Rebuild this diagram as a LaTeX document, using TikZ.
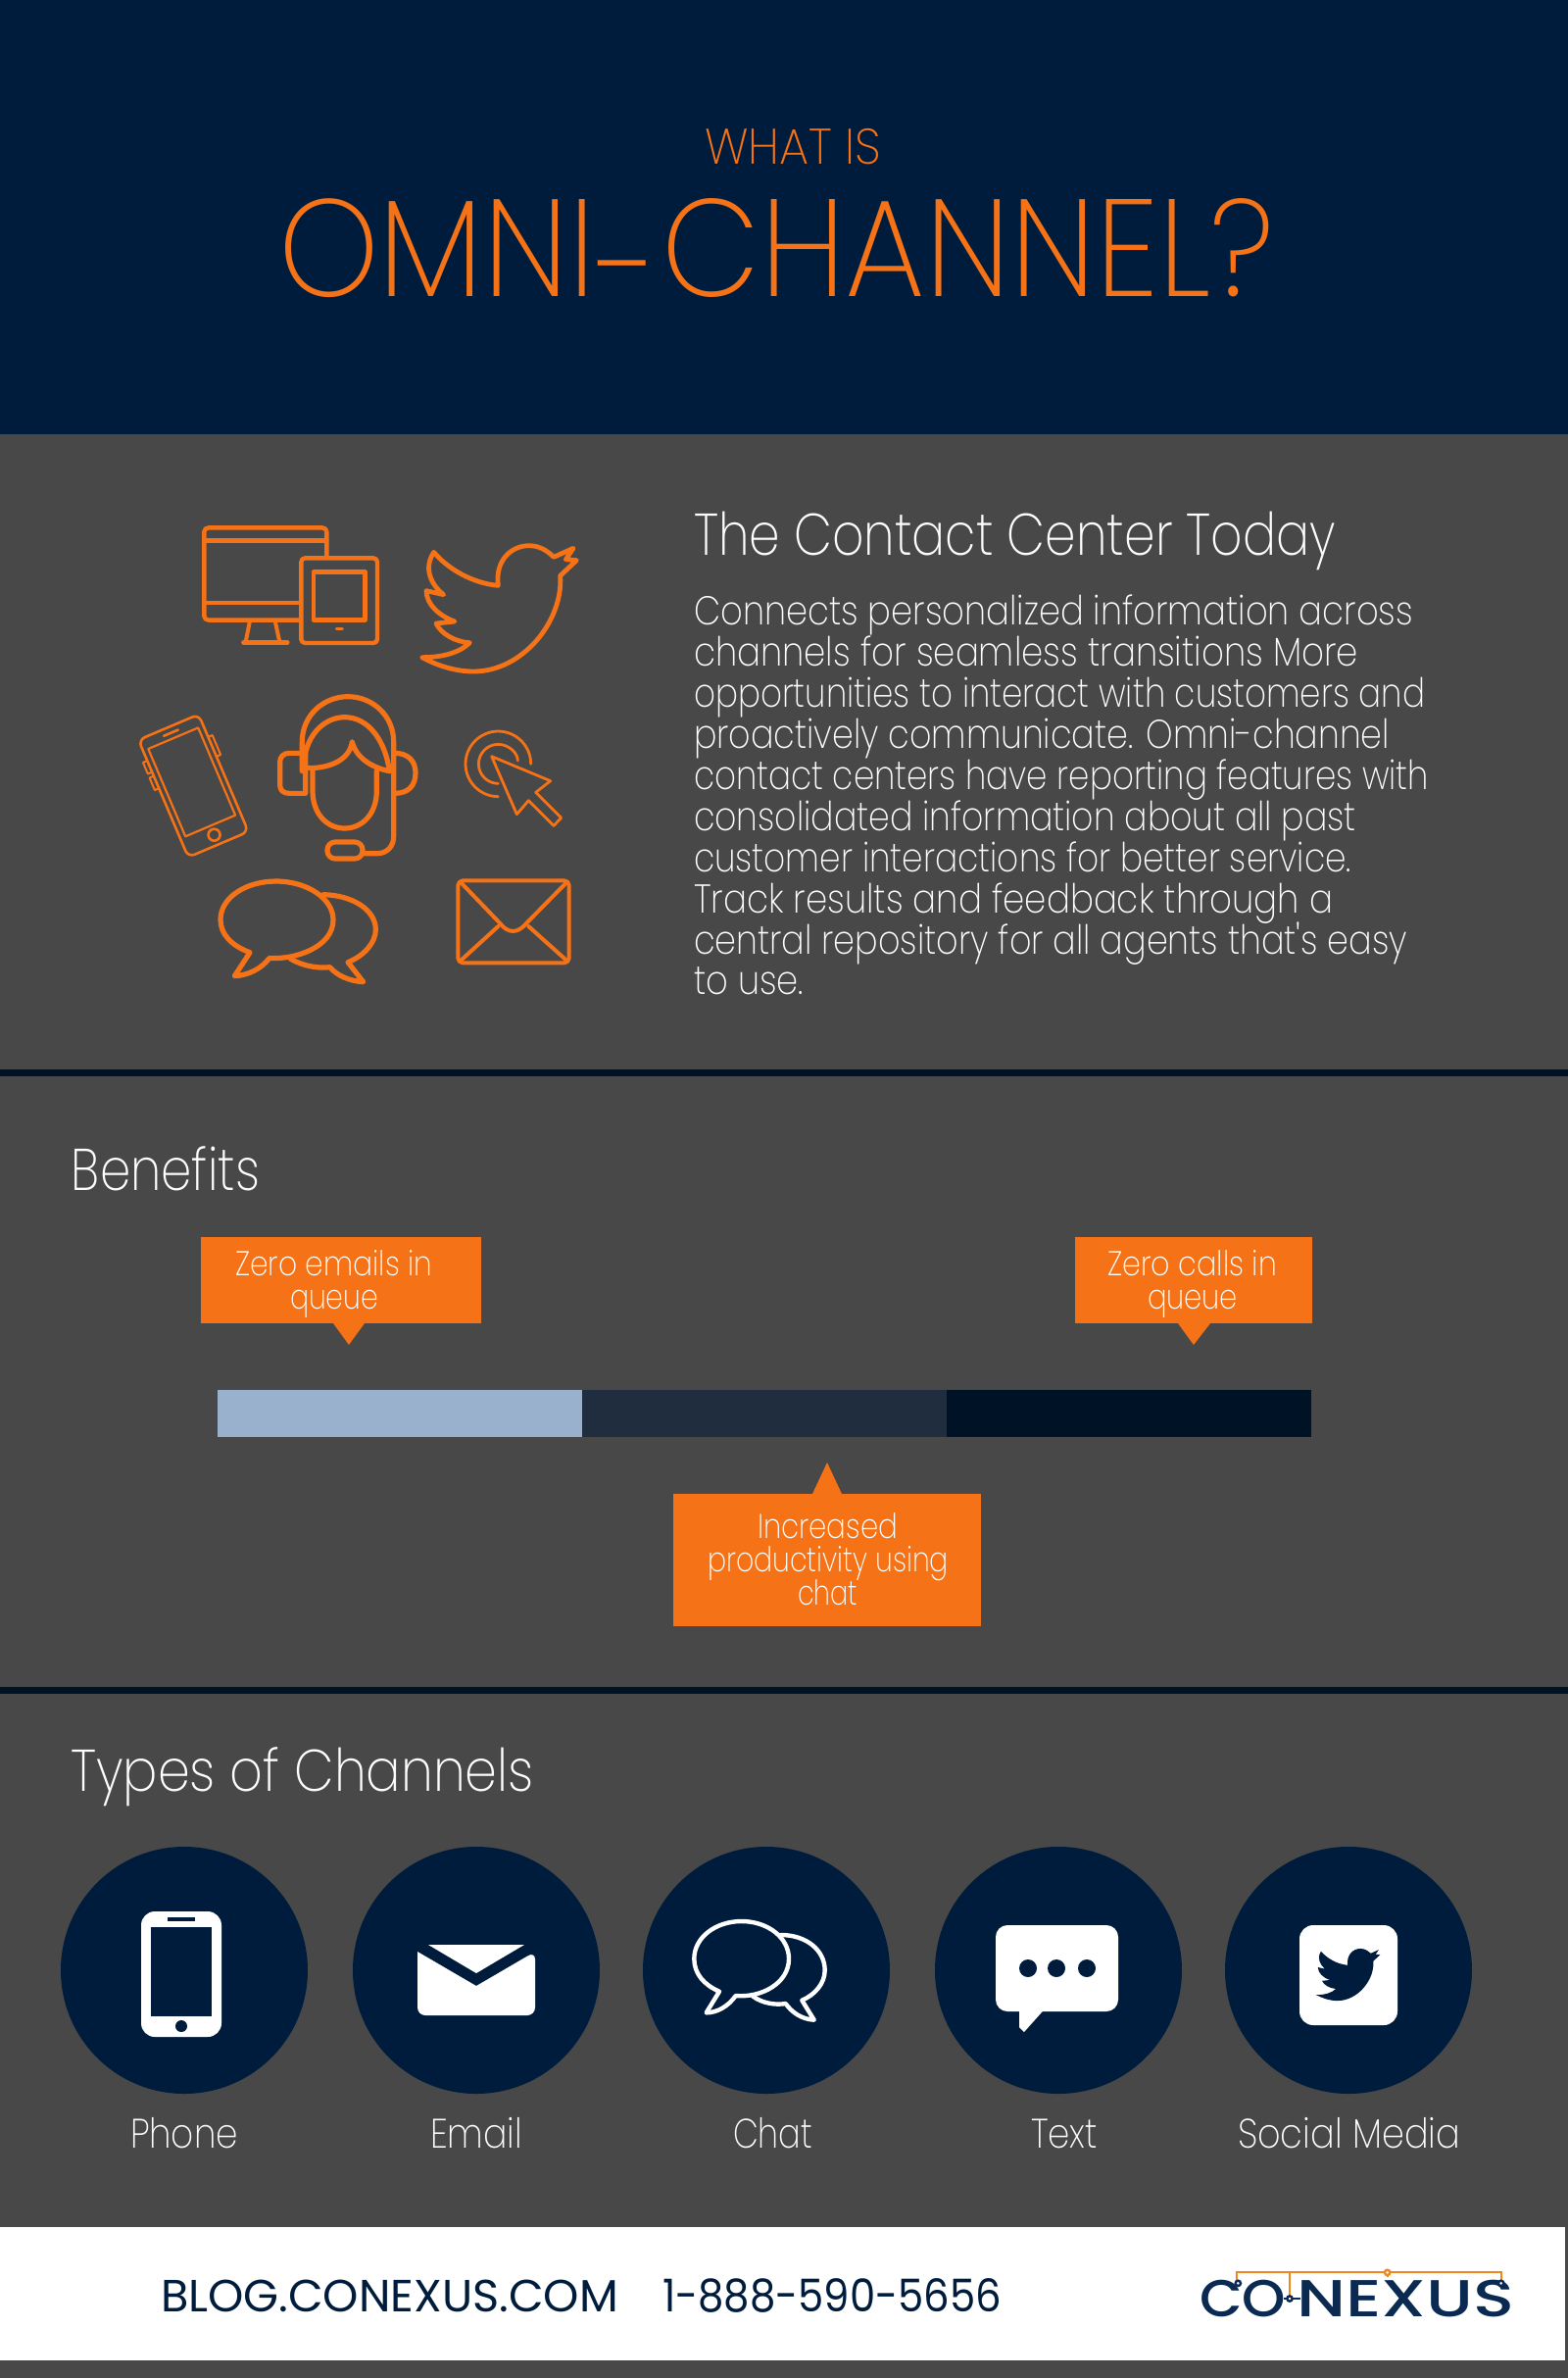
\documentclass[tikz,border=0pt]{standalone}
\usepackage{graphicx}
\usepackage{fontspec}
\newfontfamily\fxl{Poppins ExtraLight}
\newfontfamily\freg{Poppins}
\newfontfamily\fmed{Poppins Medium}
\definecolor{navy}{HTML}{001C3C}
\definecolor{sect}{HTML}{484848}
\definecolor{rule}{HTML}{001326}
\definecolor{org}{HTML}{F57216}
\definecolor{barA}{HTML}{9AB1CE}
\definecolor{barB}{HTML}{1F2D3F}
\definecolor{barC}{HTML}{001326}
\definecolor{logoN}{HTML}{0B2A52}
\definecolor{logoO}{HTML}{F0861E}
\newsavebox\fitbox
% #1 target width in reference pixels, #2 font size in reference pixels, #3 font, #4 text
\newcommand\fitw[4]{\sbox\fitbox{\fontsize{\fpeval{#2/2}pt}{\fpeval{#2/2}pt}#3#4}\pgfmathsetmacro\fitr{(#1*0.5)/(\the\wd\fitbox)}\scalebox{\fitr}[1]{\usebox\fitbox}}
\tikzset{
  txt/.style={anchor=base west,inner sep=0pt,outer sep=0pt,text=white},
  icon/.style={draw=org,line join=round,line cap=round,fill=none},
  zone/.style={shift={(#1)},x=0.16667pt,y=-0.16667pt},
  dotn/.style={circle,fill=navy,inner sep=0pt,minimum size=9pt},
  disc/.style={circle,fill=navy,inner sep=0pt,minimum size=126pt}
}
\newcommand\birdpath{(968,190) .. controls (1010,240) and (1085,285) .. (1165,292) .. controls (1155,215) and (1205,170) .. (1260,170) .. controls (1295,170) and (1320,190) .. (1335,205) -- (1395,178) -- (1372,212) -- (1405,215) -- (1355,262) .. controls (1365,400) and (1240,555) .. (1090,555) .. controls (1030,555) and (975,535) .. (932,512) .. controls (1000,512) and (1050,495) .. (1078,467) .. controls (1035,465) and (990,440) .. (975,408) -- (1032,402) .. controls (985,385) and (945,350) .. (945,308) -- (998,320) .. controls (960,290) and (935,240) .. (968,190) -- cycle}
\begin{document}
\begin{tikzpicture}[x=0.5pt,y=-0.5pt]
\useasboundingbox (0,0) rectangle (1600,2426);
\fill[sect] (0,0) rectangle (1600,2426);
\fill[navy] (0,0) rectangle (1600,443);
\fill[rule] (0,1091) rectangle (1600,1098);
\fill[rule] (0,1721) rectangle (1600,1728);

% title
\node[txt,text=org] (what) at (719,167) {\fitw{180}{51}{\fxl}{WHAT IS}};
\node[txt,text=org] (omni) at (284,302) {\fitw{1016}{141}{\fxl}{OMNI\kern.02em\raisebox{-0.14em}{-}\kern.02em CHANNEL?}};

% contact centre text
\node[txt] (head) at (708,566) {\fitw{655}{60}{\fxl}{The Contact Center Today}};
\node[txt] (l1) at (708,637) {\fitw{734}{41}{\fxl}{Connects personalized information across}};
\node[txt] (l2) at (708,679) {\fitw{678}{41}{\fxl}{channels for seamless transitions More}};
\node[txt] (l3) at (708,721) {\fitw{746}{41}{\fxl}{opportunities to interact with customers and}};
\node[txt] (l4) at (708,763) {\fitw{710}{41}{\fxl}{proactively communicate. Omni-channel}};
\node[txt] (l5) at (708,805) {\fitw{750}{41}{\fxl}{contact centers have reporting features with}};
\node[txt] (l6) at (708,847) {\fitw{676}{41}{\fxl}{consolidated information about all past}};
\node[txt] (l7) at (708,889) {\fitw{671}{41}{\fxl}{customer interactions for better service.}};
\node[txt] (l8) at (708,931) {\fitw{652}{41}{\fxl}{Track results and feedback through a}};
\node[txt] (l9) at (708,973) {\fitw{728}{41}{\fxl}{central repository for all agents that's easy}};
\node[txt] (l10) at (708,1014) {\fitw{112}{41}{\fxl}{to use.}};

% orange icons, traced in the 3x crop
\begin{scope}[zone={120,500}]
  % monitor and tablet
  \draw[icon,line width=2.2pt] (640,200) -- (640,128) .. controls (640,120) and (634,115) .. (626,115) -- (279,115) .. controls (271,115) and (265,120) .. (265,128) -- (265,385) .. controls (265,393) and (271,398) .. (279,398) -- (558,398);
  \draw[icon,line width=2.2pt] (265,155) -- (640,155);
  \draw[icon,line width=2.2pt] (265,345) -- (558,345);
  \draw[icon,line width=2pt] (405,400) -- (392,465) (482,400) -- (496,465);
  \draw[icon,line width=2.2pt] (385,466) -- (520,466);
  \draw[icon,line width=2.2pt,rounded corners=2pt] (562,208) rectangle (795,468);
  \draw[icon,line width=2.2pt] (600,250) rectangle (757,398);
  \draw[icon,line width=1.5pt] (670,425) -- (688,425);
  % bird
  \draw[icon,line width=2.4pt] \birdpath;
  % phone
  \begin{scope}[shift={(232,905)},rotate=23]
    \draw[icon,line width=1.3pt,rounded corners=3.5pt] (-100,-195) rectangle (100,195);
    \draw[icon,line width=1.1pt] (-83,-158) rectangle (83,133);
    \draw[icon,line width=1.3pt] (-24,-176) -- (24,-176);
    \draw[icon,line width=1.3pt] (0,163) circle [radius=18];
    \draw[icon,line width=1pt] (100,-120) -- (114,-120) -- (114,-55) -- (100,-55);
    \draw[icon,line width=1pt] (-100,-126) -- (-114,-126) -- (-114,-88) -- (-100,-88);
    \draw[icon,line width=1pt] (-100,-75) -- (-114,-75) -- (-114,-34) -- (-100,-34);
  \end{scope}
  % headset
  \draw[icon,line width=2.6pt] (565,860) -- (565,770) .. controls (565,690) and (630,632) .. (705,632) .. controls (780,632) and (845,690) .. (845,770) -- (845,1060) .. controls (845,1090) and (825,1112) .. (795,1112) -- (750,1112);
  \draw[icon,line width=2.6pt] (570,850) .. controls (570,755) and (630,695) .. (695,695) .. controls (770,695) and (820,770) .. (832,860);
  \draw[icon,line width=2.6pt] (570,850) .. controls (640,855) and (710,830) .. (718,770) .. controls (730,820) and (780,850) .. (832,860);
  \draw[icon,line width=2.6pt] (597,860) -- (597,920) .. controls (597,990) and (640,1035) .. (695,1035) .. controls (750,1035) and (793,990) .. (793,920) -- (793,860);
  \draw[icon,line width=2.6pt] (575,805) -- (525,805) .. controls (507,805) and (497,817) .. (497,832) -- (497,903) .. controls (497,918) and (507,928) .. (525,928) -- (575,928) -- cycle;
  \draw[icon,line width=2.6pt] (848,805) .. controls (890,805) and (912,830) .. (912,865) .. controls (912,905) and (890,928) .. (848,928);
  \draw[icon,line width=2.6pt,rounded corners=4pt] (642,1077) rectangle (750,1128);
  % click cursor
  \draw[icon,line width=1.4pt] (1165,938) .. controls (1110,938) and (1065,893) .. (1065,838) .. controls (1065,783) and (1110,738) .. (1165,738) .. controls (1220,738) and (1265,783) .. (1265,838);
  \draw[icon,line width=1.4pt] (1165,898) .. controls (1132,898) and (1105,871) .. (1105,838) .. controls (1105,805) and (1132,778) .. (1165,778) .. controls (1198,778) and (1225,805) .. (1225,828);
  \draw[icon,line width=1.4pt] (1145,815) -- (1325,890) -- (1280,925) -- (1358,1003) -- (1335,1027) -- (1258,950) -- (1222,992) -- cycle;
  % chat
  \draw[icon,line width=2.6pt] (405,1415) -- (358,1487) .. controls (400,1485) and (440,1465) .. (465,1432) .. controls (540,1438) and (660,1400) .. (660,1315) .. controls (660,1250) and (580,1197) .. (485,1197) .. controls (395,1197) and (315,1245) .. (315,1315) .. controls (315,1360) and (350,1395) .. (405,1415) -- cycle;
  \draw[icon,line width=2.6pt] (630,1238) .. controls (720,1240) and (790,1285) .. (790,1345) .. controls (790,1385) and (755,1425) .. (705,1445) -- (752,1505) .. controls (710,1503) and (670,1485) .. (650,1460) .. controls (610,1465) and (565,1455) .. (530,1435);
  % envelope
  \draw[icon,line width=2pt,rounded corners=2.5pt] (1042,1195) rectangle (1382,1447);
  \draw[icon,line width=2pt] (1050,1200) -- (1170,1325) .. controls (1195,1358) and (1225,1358) .. (1252,1325) -- (1375,1200);
  \draw[icon,line width=2pt] (1050,1440) -- (1165,1335) (1375,1440) -- (1258,1335);
\end{scope}

% benefits
\node[txt] (benefits) at (73,1214) {\fitw{192}{60}{\fxl}{Benefits}};
\fill[org] (205,1262) rectangle (491,1350);
\fill[org] (340,1350) -- (372,1350) -- (356,1372) -- cycle;
\fill[org] (1097,1262) rectangle (1339,1350);
\fill[org] (1202,1350) -- (1235,1350) -- (1218,1372) -- cycle;
\fill[org] (687,1524) rectangle (1001,1659);
\fill[org] (829,1524) -- (859,1524) -- (844,1492) -- cycle;
\fill[barA] (222,1418) rectangle (594,1466);
\fill[barB] (594,1418) rectangle (966,1466);
\fill[barC] (966,1418) rectangle (1338,1466);
\node[txt] (ze1) at (240,1301) {\fitw{201}{35}{\fxl}{Zero emails in}};
\node[txt] (ze2) at (296,1335) {\fitw{90}{35}{\fxl}{queue}};
\node[txt] (zc1) at (1130,1301) {\fitw{173}{35}{\fxl}{Zero calls in}};
\node[txt] (zc2) at (1171,1335) {\fitw{92}{35}{\fxl}{queue}};
\node[txt] (ip1) at (773,1569) {\fitw{143}{35}{\fxl}{Increased}};
\node[txt] (ip2) at (722,1603) {\fitw{246}{35}{\fxl}{productivity using}};
\node[txt] (ip3) at (814,1637) {\fitw{61}{35}{\fxl}{chat}};

% channels
\node[txt] (types) at (72,1827) {\fitw{473}{60}{\fxl}{Types of Channels}};
\node[disc] (c1) at (188,2010) {};
\node[disc] (c2) at (486,2010) {};
\node[disc] (c3) at (782,2010) {};
\node[disc] (c4) at (1080,2010) {};
\node[disc] (c5) at (1376,2010) {};
\node[txt] (n1) at (133,2191) {\fitw{110}{42}{\fxl}{Phone}};
\node[txt] (n2) at (439,2191) {\fitw{94}{42}{\fxl}{Email}};
\node[txt] (n3) at (748,2191) {\fitw{81}{42}{\fxl}{Chat}};
\node[txt] (n4) at (1052,2191) {\fitw{68}{42}{\fxl}{Text}};
\node[txt] (n5) at (1263,2191) {\fitw{227}{42}{\fxl}{Social Media}};

% white channel icons
\fill[white,rounded corners=7pt] (144,1950) rectangle (226,2078);
\fill[navy] (154,1966) rectangle (215.5,2057);
\fill[navy] (171,1956) rectangle (199,1960);
\fill[navy] (185,2067) circle [radius=6];
\fill[white] (437,1984) -- (535,1984) -- (486,2013) -- cycle;
\fill[white,rounded corners=4pt] (426,1991) -- (426,2056) -- (546,2056) -- (546,1991) [sharp corners] -- (486,2026) -- cycle;
\begin{scope}[zone={660,1900}]
  \draw[white,line width=2.2pt,line join=round,line cap=round] (222,395) -- (182,460) .. controls (215,460) and (250,440) .. (272,408) .. controls (350,415) and (435,370) .. (435,295) .. controls (435,230) and (370,180) .. (290,180) .. controls (210,180) and (145,230) .. (145,295) .. controls (145,340) and (175,375) .. (222,395) -- cycle;
  \draw[white,line width=2.2pt,line join=round,line cap=round] (410,222) .. controls (490,222) and (545,270) .. (545,330) .. controls (545,370) and (515,405) .. (475,422) -- (512,482) .. controls (475,480) and (445,460) .. (425,432) .. controls (395,437) and (355,432) .. (325,410);
\end{scope}
\fill[white,rounded corners=6pt] (1016,1964) rectangle (1141,2052);
\fill[white,line join=round] (1040,2045) -- (1040,2068) -- (1045,2073) -- (1070,2045) -- cycle;
\node[dotn] (d1) at (1049,2008) {};
\node[dotn] (d2) at (1078,2008) {};
\node[dotn] (d3) at (1109,2008) {};
\fill[white,rounded corners=7pt] (1326,1964) rectangle (1426,2066);
\begin{scope}[shift={(1214.4,1964.5)},x=0.069pt,y=-0.069pt]
  \fill[navy] \birdpath;
\end{scope}

% footer
\fill[white] (0,2272) rectangle (1597,2408);
\node[txt,text=navy] (blog) at (164,2358) {\fitw{467}{46}{\freg}{BLOG.CONEXUS.COM}};
\node[txt,text=navy] (tel) at (676,2358) {\fitw{346}{46}{\freg}{1-888-590-5656}};

% logo, traced in the 3x crop
\node[txt,text=logoN] (lco) at (1224,2363) {\fitw{88}{53}{\fmed}{CO}};
\node[txt,text=logoN] (lnx) at (1323,2363) {\fitw{222}{53}{\fmed}{NEXUS}};
\begin{scope}[zone={1200,2290}]
  \draw[logoO,line width=1pt] (185,108) -- (185,85) -- (995,85) -- (995,108);
  \draw[logoO,line width=1pt] (348,85) -- (348,155);
  \draw[logoO,line width=1pt] (647,85) -- (647,100);
  \draw[logoN,line width=1pt] (330,165) -- (380,165);
  \draw[logoN,fill=white,line width=1.2pt] (190,118) circle [radius=8];
  \draw[logoN,fill=white,line width=1.2pt] (348,165) circle [radius=8];
  \draw[logoN,fill=white,line width=1.2pt] (995,118) circle [radius=8];
  \draw[logoO,fill=white,line width=1.2pt] (647,85) circle [radius=8];
\end{scope}
\end{tikzpicture}
\end{document}
